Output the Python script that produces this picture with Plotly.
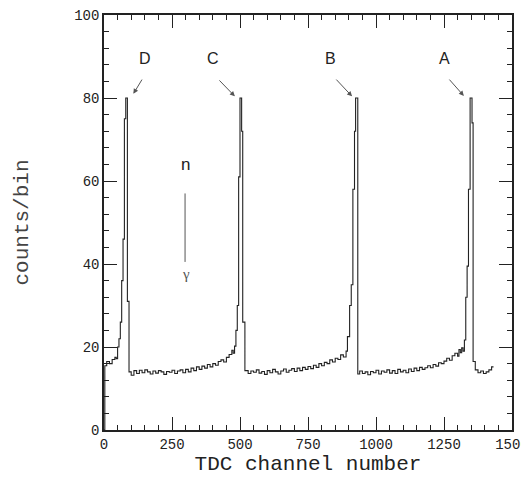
import plotly.graph_objects as go

# TDC histogram (bin left edge, counts)
channel = [0, 3, 10, 20, 30, 40, 45, 50, 55, 60, 65, 70, 75, 80, 86, 92,
           100, 110, 120, 130, 140, 150, 160, 170, 180, 190, 200, 210, 220, 230, 240,
           250, 260, 270, 280, 290, 300, 310, 320, 330, 340, 350, 360, 370, 380, 390,
           400, 410, 420, 430, 440, 450, 460, 470, 475, 480, 485, 490, 495, 500, 506, 510, 518,
           530, 540, 550, 560, 570, 580, 590, 600, 610, 620, 630, 640, 650, 660, 670,
           680, 690, 700, 710, 720, 730, 740, 750, 760, 770, 780, 790, 800, 810, 820,
           830, 840, 850, 860, 870, 880, 890, 895, 903, 909, 915, 921, 925, 933,
           940, 950, 960, 970, 980, 990, 1000, 1010, 1020, 1030, 1040, 1050, 1060, 1070,
           1080, 1090, 1100, 1110, 1120, 1130, 1140, 1150, 1160, 1170, 1180, 1190, 1200,
           1210, 1220, 1230, 1240, 1250, 1260, 1270, 1280, 1290, 1300, 1305, 1310, 1315,
           1320, 1325, 1330, 1335, 1340, 1346, 1353, 1357,
           1365, 1375, 1385, 1395, 1405, 1415, 1425, 1432]
counts = [0, 15.5, 16.5, 16.0, 17.0, 17.5, 17.2, 20.0, 22.0, 26.0, 36.0, 46.0, 75.0, 80.0, 31.0, 14.0,
          13.2, 14.3, 13.6, 14.4, 13.8, 14.5, 14.0, 13.5, 14.2, 13.7, 14.3, 14.0, 13.4, 14.1, 13.9,
          14.4, 13.6, 14.2, 14.5, 13.8, 14.6, 14.0, 14.9, 14.3, 15.2, 14.6, 15.4, 14.9, 15.8, 15.2,
          16.0, 15.6, 16.5, 16.9, 16.4, 17.5, 18.2, 19.2, 18.5, 20.2, 24.0, 30.0, 61.0, 80.0, 72.0, 26.0, 14.3,
          13.6, 14.2, 13.9, 14.5, 13.7, 14.1, 13.4, 14.3, 13.8, 14.6, 14.0, 13.5, 14.2, 14.7, 13.9,
          14.4, 14.8, 14.1, 14.9, 14.3, 15.1, 14.6, 15.3, 14.8, 15.6, 15.1, 16.0, 15.5, 16.3, 16.0,
          16.9, 16.4, 17.3, 17.0, 18.1, 17.6, 19.0, 22.5, 30.0, 35.0, 58.0, 72.0, 80.0, 13.5,
          14.2, 13.6, 14.0, 13.3, 14.1, 13.8, 14.4, 13.5, 14.2, 13.9, 14.5, 13.7, 14.3, 13.6,
          14.6, 14.0, 14.4, 13.8, 14.7, 14.1, 14.9, 14.3, 15.1, 14.6, 15.0, 15.5, 15.0,
          15.8, 15.4, 16.2, 16.0, 16.6, 17.3, 16.8, 17.9, 18.5, 17.8, 19.4, 18.6, 19.8,
          19.0, 21.7, 32.0, 39.5, 58.0, 80.0, 74.0, 16.5,
          14.5, 13.8, 14.2, 13.6, 14.0, 14.5, 15.2, 15.2]

x_tick_step = 250
x_minor_step = 50
y_tick_step = 20
y_minor_step = 4

ink = "#222222"
fig = go.Figure()
fig.add_trace(go.Scatter(x=channel, y=counts, mode="lines", line_shape="hv",
                         line=dict(color=ink, width=1.1), showlegend=False,
                         hoverinfo="skip"))

axis_common = dict(showgrid=False, zeroline=False, showline=True, linecolor=ink,
                   linewidth=1.5, mirror="allticks", ticks="inside", ticklen=13,
                   tickwidth=1.3, tickcolor=ink, tickmode="linear", tick0=0,
                   automargin=False, ticklabeloverflow="allow",
                   tickfont=dict(family="Liberation Mono", size=14, color=ink))

fig.update_xaxes(range=[0, 1500], dtick=x_tick_step,
                 minor=dict(dtick=x_minor_step, tick0=0, ticklen=5, ticks="inside",
                            tickcolor=ink, tickwidth=1, showgrid=False),
                 title=dict(text="TDC channel number", standoff=3,
                            font=dict(family="Liberation Mono", size=21, color=ink)),
                 **axis_common)
fig.update_yaxes(range=[0, 100], dtick=y_tick_step,
                 minor=dict(dtick=y_minor_step, tick0=0, ticklen=5, ticks="inside",
                            tickcolor=ink, tickwidth=1, showgrid=False),
                 title=dict(text="counts/bin", standoff=40,
                            font=dict(family="Liberation Mono", size=21, color="#444444")),
                 **axis_common)

labels = [("D", 150, 89.6, 143, 84.8, 108, 81),
          ("C", 401, 89.6, 419, 84.6, 481, 80.4),
          ("B", 831, 89.6, 849, 84.8, 912, 80.4),
          ("A", 1250, 89.6, 1265, 84.8, 1323, 80.5)]
for txt, tx, ty, ax, ay, hx, hy in labels:
    fig.add_annotation(x=tx, y=ty, text=txt, showarrow=False,
                       font=dict(family="Liberation Sans", size=16, color=ink))
    fig.add_annotation(x=hx, y=hy, ax=ax, ay=ay, axref="x", ayref="y", text="",
                       showarrow=True, arrowhead=2, arrowsize=1, arrowwidth=1,
                       arrowcolor="#555555")

fig.add_annotation(x=300, y=64, text="n", showarrow=False,
                   font=dict(family="Liberation Sans", size=17, color=ink))
fig.add_annotation(x=300, y=37.5, text="γ", showarrow=False,
                   font=dict(family="Liberation Serif", size=15, color="#555555"))
fig.add_shape(type="line", x0=298, x1=298, y0=40.5, y1=57, xref="x", yref="y",
              line=dict(color="#555555", width=1))

# page body has an 8px margin, so the figure is sized to fit the 529x479 window
fig.update_layout(width=521, height=471, margin=dict(l=96, r=17, t=7, b=49),
                  paper_bgcolor="white", plot_bgcolor="white")
fig.write_html("out.html")
